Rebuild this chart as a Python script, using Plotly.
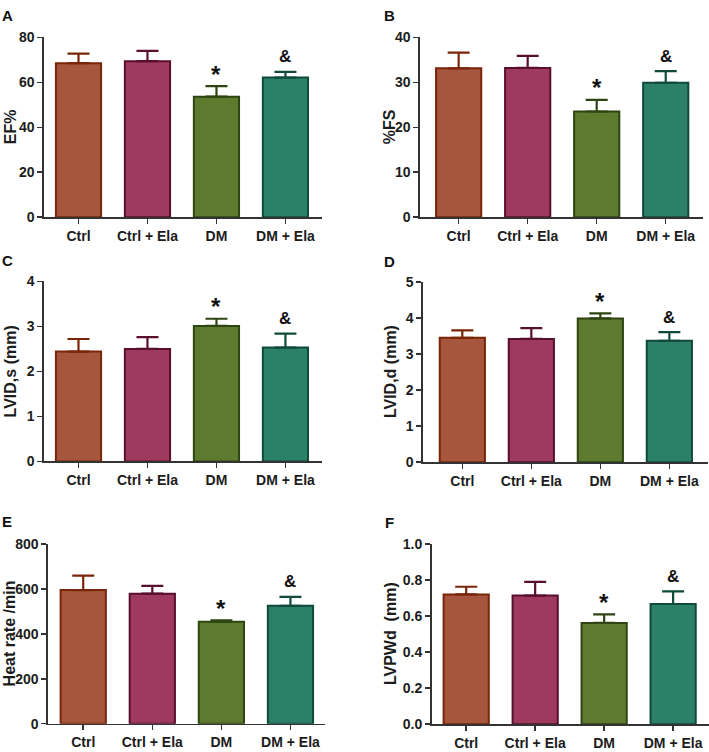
import plotly.graph_objects as go

W, H = 709, 752

categories = ["Ctrl", "Ctrl + Ela", "DM", "DM + Ela"]

ef_mean = [68.5, 69.4, 53.6, 62.1]
ef_err = [4.3, 4.6, 4.7, 2.5]
fs_mean = [33.1, 33.2, 23.5, 29.9]
fs_err = [3.5, 2.7, 2.6, 2.6]
lvids_mean = [2.44, 2.50, 3.01, 2.53]
lvids_err = [0.28, 0.26, 0.16, 0.31]
lvidd_mean = [3.45, 3.42, 3.99, 3.37]
lvidd_err = [0.21, 0.30, 0.14, 0.24]
hr_mean = [595, 579, 454, 525]
hr_err = [64, 35, 6, 40]
lvpwd_mean = [0.720, 0.714, 0.562, 0.667]
lvpwd_err = [0.043, 0.076, 0.047, 0.070]

sig_marks = ["", "", "*", "&"]

fill_colors = ["#A5563C", "#9D3A5E", "#5E7A2E", "#2D8068"]
line_colors = ["#7A2408", "#5A0E2E", "#2E4512", "#0F4A3A"]

FONT = "Liberation Sans, Arial, sans-serif"
TXT = "#1c1c1c"
AX = "#333333"

panels = [
    dict(letter="A", ytitle="EF%", mean=ef_mean, err=ef_err, yr=[0, 80], dtick=20, fmt="",
         box=(44, 322, 30, 213.7), xr=[-0.5, 3.53], tx=10, lp=(7, 8)),
    dict(letter="B", ytitle="%FS", mean=fs_mean, err=fs_err, yr=[0, 40], dtick=10, fmt="",
         box=(420, 703, 30, 213.7), xr=[-0.56, 3.54], tx=389, lp=(389, 8)),
    dict(letter="C", ytitle="LVID,s (mm)", mean=lvids_mean, err=lvids_err, yr=[0, 4], dtick=1, fmt="",
         box=(44, 322, 279.3, 463.3), xr=[-0.5, 3.53], tx=10, lp=(7, 258)),
    dict(letter="D", ytitle="LVID,d (mm)", mean=lvidd_mean, err=lvidd_err, yr=[0, 5], dtick=1, fmt="",
         box=(423, 708, 280, 464), xr=[-0.57, 3.56], tx=390, lp=(389, 259)),
    dict(letter="E", ytitle="Heat rate /min", mean=hr_mean, err=hr_err, yr=[0, 800], dtick=200, fmt="",
         box=(48, 325, 547.7, 731.3), xr=[-0.51, 3.5], tx=9.5, lp=(7, 525)),
    dict(letter="F", ytitle="LVPWd  (mm)", mean=lvpwd_mean, err=lvpwd_err, yr=[0, 1.0], dtick=0.2, fmt=".1f",
         box=(431.7, 709, 547.7, 731.7), xr=[-0.5, 3.52], tx=390, lp=(389, 526)),
]

fig = go.Figure()
annotations = []
layout_axes = {}

for i, p in enumerate(panels):
    n = i + 1
    xa = "x" if n == 1 else f"x{n}"
    ya = "y" if n == 1 else f"y{n}"
    xkey = "xaxis" if n == 1 else f"xaxis{n}"
    ykey = "yaxis" if n == 1 else f"yaxis{n}"
    x0, x1, yt, yb = p["box"]
    for j, cat in enumerate(categories):
        fig.add_trace(go.Bar(
            x=[j], y=[p["mean"][j]], width=0.655,
            marker=dict(color=fill_colors[j], line=dict(color=line_colors[j], width=2)),
            error_y=dict(type="data", symmetric=False, array=[p["err"][j]], arrayminus=[0],
                         color=line_colors[j], thickness=2.2, width=11),
            xaxis=xa, yaxis=ya, showlegend=False, hoverinfo="skip",
        ))
        if sig_marks[j]:
            top = p["mean"][j] + p["err"][j]
            is_star = sig_marks[j] == "*"
            annotations.append(dict(
                x=j, y=top, xref=xa, yref=ya, text=f"<b>{sig_marks[j]}</b>",
                showarrow=False, xanchor="center", yanchor="middle",
                yshift=12 if is_star else 15,
                font=dict(family=FONT, size=24 if is_star else 17, color="#111111"),
            ))
    layout_axes[xkey] = dict(
        domain=[x0 / W, x1 / W], range=p["xr"], anchor=ya,
        tickmode="array", tickvals=list(range(4)), ticktext=categories,
        showline=True, linecolor=AX, linewidth=1.6, ticks="outside", ticklen=5,
        tickwidth=1.5, tickcolor=AX, showgrid=False, zeroline=False, fixedrange=True,
        tickfont=dict(family=FONT, size=14, color=TXT, weight="bold"),
    )
    layout_axes[ykey] = dict(
        domain=[1 - yb / H, 1 - yt / H], range=p["yr"], anchor=xa,
        dtick=p["dtick"], tick0=0, tickformat=p["fmt"],
        showline=True, linecolor=AX, linewidth=1.6, ticks="outside", ticklen=5,
        tickwidth=1.5, tickcolor=AX, showgrid=False, zeroline=False, fixedrange=True,
        tickfont=dict(family=FONT, size=14, color=TXT, weight="bold"),
    )
    annotations.append(dict(
        x=p["tx"] / W, y=1 - (yt + yb) / 2 / H, xref="paper", yref="paper",
        text=f"<b>{p['ytitle']}</b>", textangle=-90, showarrow=False,
        xanchor="center", yanchor="middle",
        font=dict(family=FONT, size=16, color=TXT),
    ))
    annotations.append(dict(
        x=p["lp"][0] / W, y=1 - p["lp"][1] / H, xref="paper", yref="paper",
        text=f"<b>{p['letter']}</b>", showarrow=False,
        xanchor="center", yanchor="middle",
        font=dict(family=FONT, size=15, color="#111111"),
    ))

fig.update_layout(
    width=W, height=H, margin=dict(l=0, r=0, t=0, b=0),
    paper_bgcolor="white", plot_bgcolor="white",
    annotations=annotations, bargap=0.3,
    **layout_axes,
)

fig.write_html(
    "out.html",
    config={"displayModeBar": False, "staticPlot": True},
    post_script="document.body.style.margin='0px';document.body.style.overflow='hidden';",
)
